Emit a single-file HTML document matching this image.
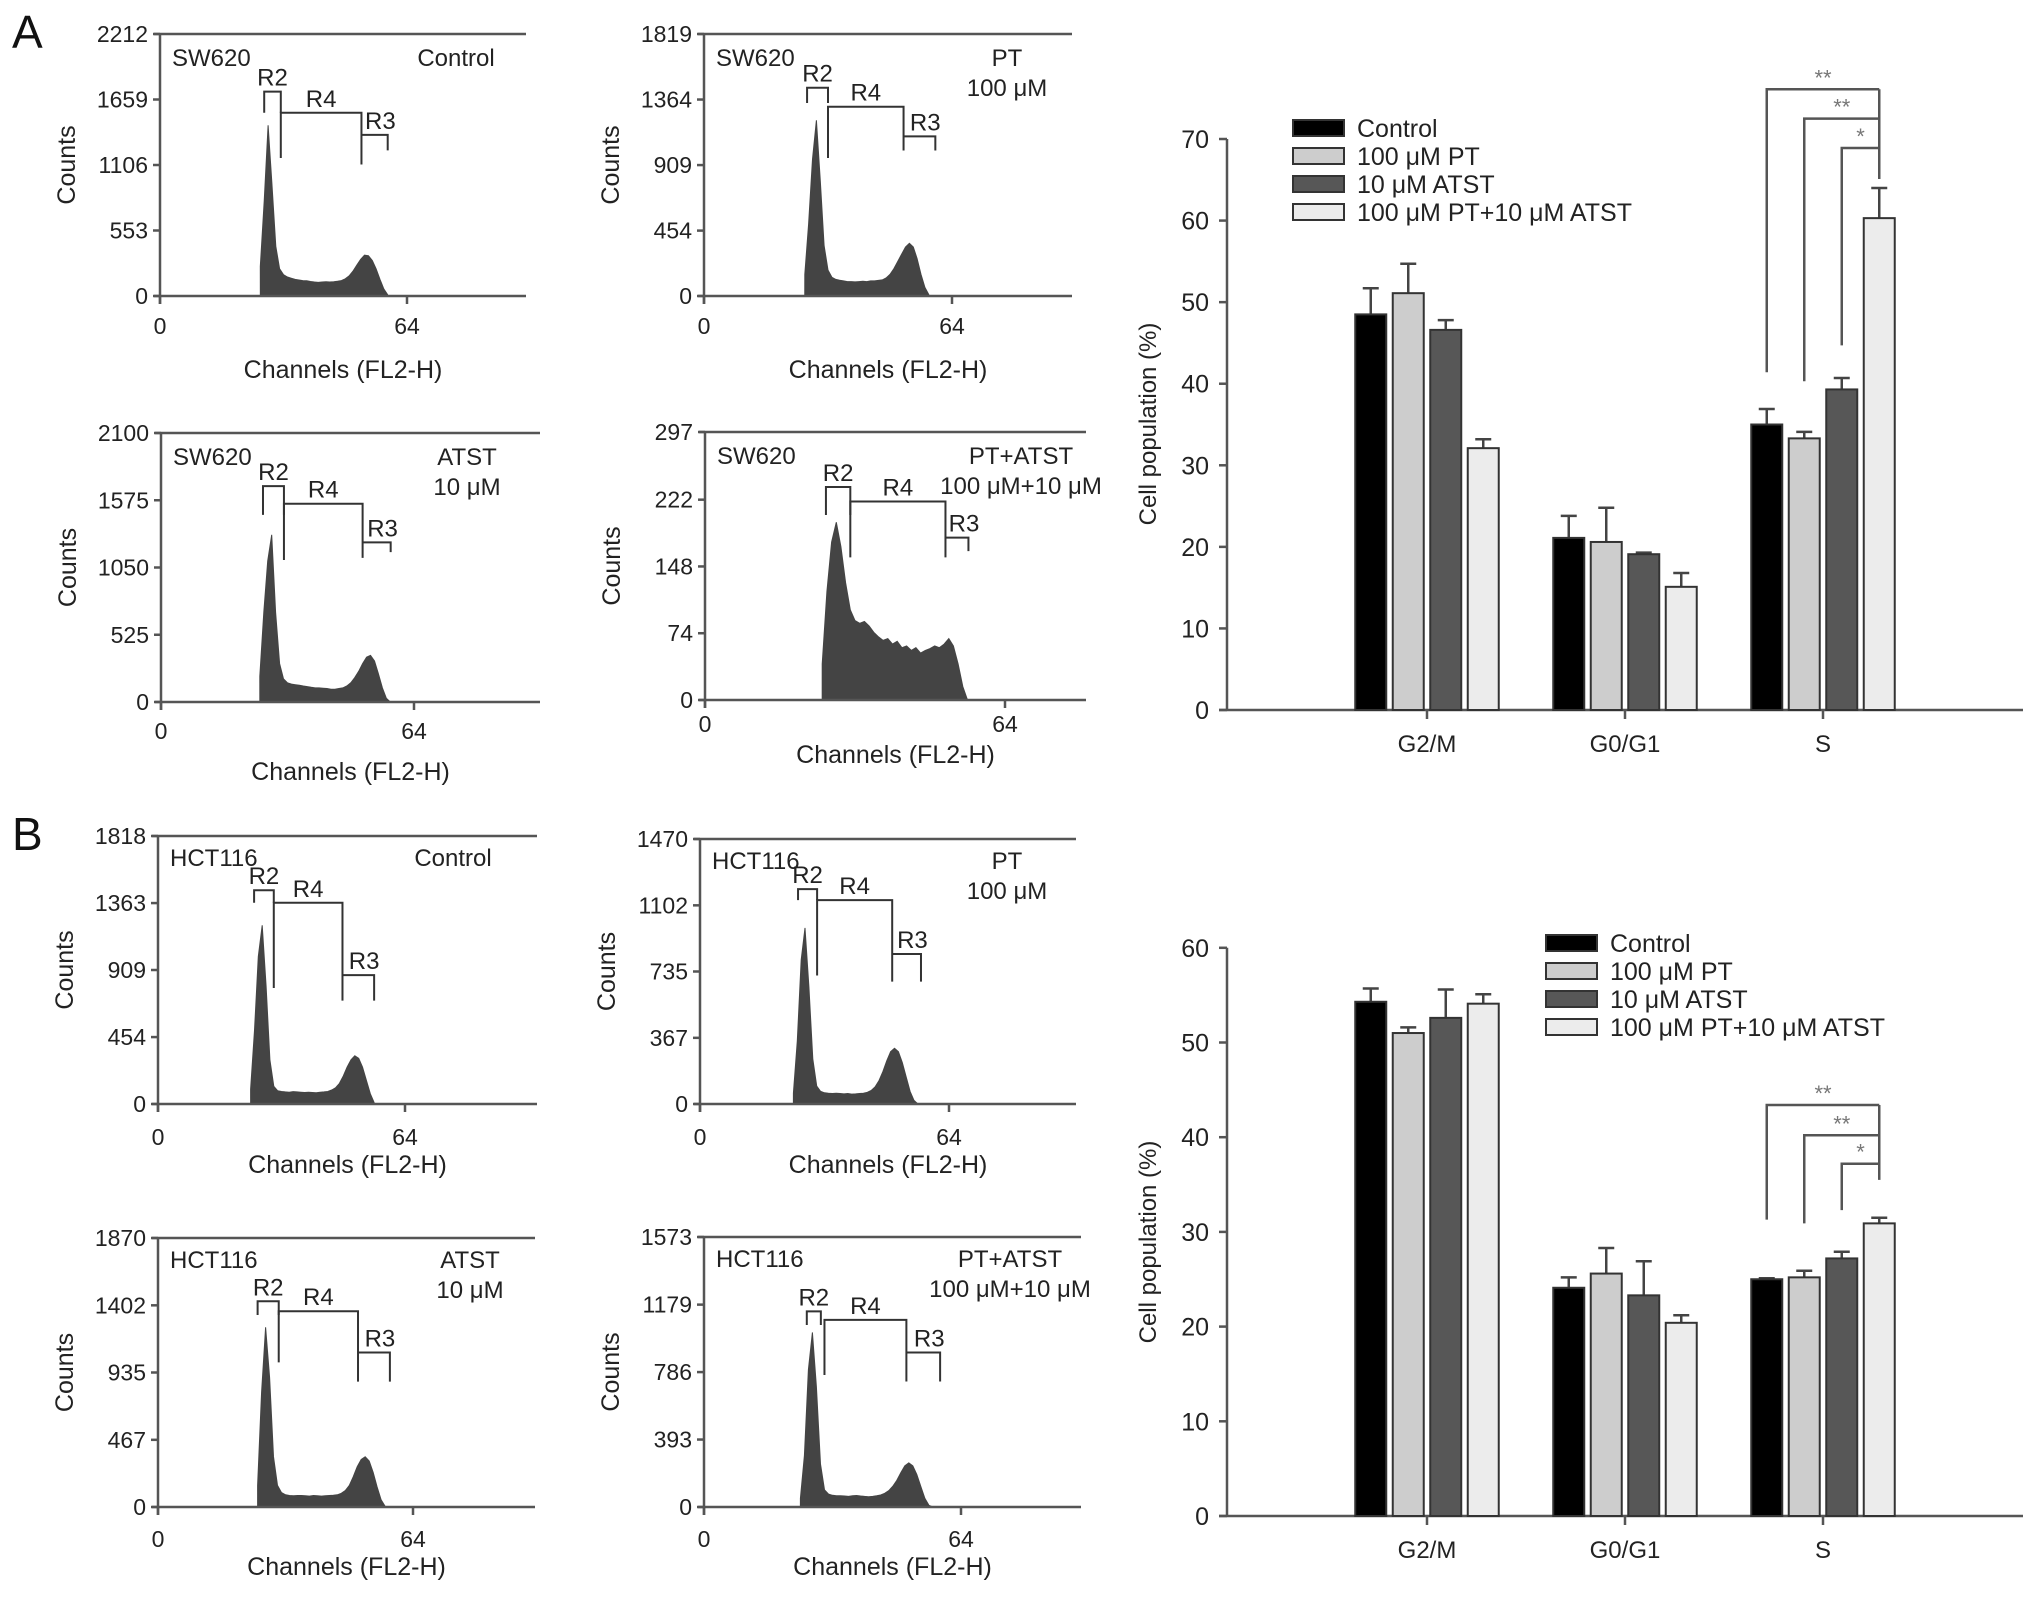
<!DOCTYPE html>
<html><head><meta charset="utf-8">
<style>
html,body{margin:0;padding:0;background:#fff;}
svg{display:block;font-family:"Liberation Sans",Arial,sans-serif;}
</style></head>
<body>
<svg id="fig" width="2032" height="1605" viewBox="0 0 2032 1605" xmlns="http://www.w3.org/2000/svg">
<rect x="0" y="0" width="2032" height="1605" fill="#fff"/>
<text x="12" y="48" font-size="46" fill="#111">A</text>
<text x="12" y="850" font-size="46" fill="#111">B</text>
</svg>
<script>
// ---------- Histogram data (counts per channel, starting at histStart) ----------
const histStartA1 = 26;
const histA1 = [250,800,1441,950,420,230,180,160,150,140,135,130,128,122,118,115,118,120,118,120,124,130,145,170,210,260,310,345,340,300,230,140,60,10];
const histStartA2 = 26;
const histA2 = [150,500,950,1220,800,350,180,130,115,110,105,100,100,98,100,102,100,105,105,108,112,125,150,190,240,290,340,366,340,260,150,60,10];
const histStartA3 = 25;
const histA3 = [200,700,1100,1305,700,300,180,150,140,135,130,125,120,115,110,110,108,105,100,100,105,110,125,150,190,240,300,350,364,320,220,110,30,0];
const histStartA4 = 25;
const histA4 = [40,120,175,197,170,130,100,88,85,87,82,75,70,66,68,62,65,58,60,55,58,52,55,57,60,58,62,68,60,40,15,0];
const histStartB1 = 24;
const histB1 = [100,500,1000,1212,800,300,120,90,85,82,80,84,82,80,78,80,78,76,80,82,85,95,110,140,190,250,300,327,310,250,160,70,10];
const histStartB2 = 24;
const histB2 = [60,350,800,977,650,250,100,70,62,60,58,60,58,56,58,55,56,58,60,65,75,95,130,180,240,290,309,290,230,150,70,20,0];
const histStartB3 = 25;
const histB3 = [150,800,1249,900,350,150,100,85,80,78,80,80,78,76,80,78,76,78,80,82,85,95,115,150,210,280,330,349,320,240,140,50,5];
const histStartB4 = 24;
const histB4 = [50,300,800,1017,700,250,100,75,68,65,66,64,62,65,67,64,62,60,62,65,70,80,95,120,155,200,240,257,240,190,120,50,10,0];

// y tick labels
const ticksA1 = [0,553,1106,1659,2212];
const ticksA2 = [0,454,909,1364,1819];
const ticksA3 = [0,525,1050,1575,2100];
const ticksA4 = [0,74,148,222,297];
const ticksB1 = [0,454,909,1363,1818];
const ticksB2 = [0,367,735,1102,1470];
const ticksB3 = [0,467,935,1402,1870];
const ticksB4 = [0,393,786,1179,1573];

// gate brackets: r2 [x1,x2,top,legBottom], r4 [x1,x2,top,leftLeg,rightLeg], r3 [x1,x2,top,rightLeg] (channel, count)
const gatesA1 = {r2:[27,31.3,1725,1547], r4:[31.3,52.2,1547,1165,1110], r3:[52.2,59,1360,1230]};
const gatesA2 = {r2:[26.6,32,1446,1340], r4:[32,51.5,1314,958,1010], r3:[51.5,59.7,1108,1010]};
const gatesA3 = {r2:[25.8,31.1,1685,1461], r4:[31.1,51,1548,1109,1125], r3:[51,58.1,1246,1170]};
const gatesA4 = {r2:[25.8,31,236,205], r4:[31,51.3,220,158,158], r3:[51.3,56.2,180,165]};
const gatesB1 = {r2:[24.9,30,1450,1365], r4:[30,47.8,1365,787,701], r3:[47.8,56,874,701]};
const gatesB2 = {r2:[25.2,30.1,1192,1131], r4:[30.1,49.4,1131,713,679], r3:[49.4,56.8,832,679]};
const gatesB3 = {r2:[25,30.3,1430,1335], r4:[30.3,50.2,1361,1005,872], r3:[50.2,58.2,1074,872]};
const gatesB4 = {r2:[25.6,29.1,1140,1060], r4:[30,50.4,1090,769,731], r3:[50.4,58.8,900,731]};

// ---------- Bar chart data ----------
const phases = ['G2/M','G0/G1','S'];
const seriesNames = ['Control','100 \u03bcM PT','10 \u03bcM ATST','100 \u03bcM PT+10 \u03bcM ATST'];
const aControl = [48.5,21.1,35.0];
const aPT = [51.1,20.6,33.3];
const aATST = [46.6,19.1,39.3];
const aCombo = [32.1,15.1,60.3];
const aControlErr = [3.2,2.7,1.9];
const aPTErr = [3.6,4.2,0.8];
const aATSTErr = [1.2,0.2,1.4];
const aComboErr = [1.1,1.7,3.7];
const bControl = [54.3,24.1,25.0];
const bPT = [51.0,25.6,25.2];
const bATST = [52.6,23.3,27.2];
const bCombo = [54.1,20.4,30.9];
const bControlErr = [1.4,1.1,0.1];
const bPTErr = [0.6,2.7,0.7];
const bATSTErr = [3.0,3.6,0.7];
const bComboErr = [1.0,0.8,0.6];
const aYTicks = [0,10,20,30,40,50,60,70];
const bYTicks = [0,10,20,30,40,50,60];
// significance brackets: [fromSeries, topValue, leftLegBottomValue, label]
const aSig = [[0,76.1,41.4,'**'],[1,72.5,40.3,'**'],[2,68.9,44.7,'*']];
const aSigRightBottom = 65.1;
const bSig = [[0,43.4,31.3,'**'],[1,40.2,30.9,'**'],[2,37.2,32.3,'*']];
const bSigRightBottom = 35.5;

const NS = 'http://www.w3.org/2000/svg';
const svg = document.getElementById('fig');
function mk(tag, attrs, parent){ const e=document.createElementNS(NS,tag); for(const k in attrs) e.setAttribute(k,attrs[k]); (parent||svg).appendChild(e); return e; }
const AX='#555', TXT='#222';
const TF=23, LF=24;

function histPanel(id, g, hist, start, ticks, gates, cell, lines, cfg){
  const grp = mk('g',{});
  
  
  const max = ticks[ticks.length-1];
  const xs = c => g.L + (g.x64-g.L)*c/64;
  const ys = v => g.B - (g.B-g.T)*v/max;
  let d = 'M'+xs(start)+','+g.B;
  hist.forEach((v,i)=>{ d += ' L'+xs(start+i).toFixed(1)+','+ys(v).toFixed(1); });
  d += ' L'+xs(start+hist.length-1)+','+g.B+' Z';
  const area = mk('path',{d:d, fill:'#444', stroke:'#444', 'stroke-width':1}, grp);
  
  
  const top = mk('line',{x1:g.L-6,y1:g.T,x2:g.R,y2:g.T,stroke:AX,'stroke-width':2.5}, grp);
  
  
  const ya = mk('line',{x1:g.L,y1:g.T,x2:g.L,y2:g.B+8,stroke:AX,'stroke-width':2.5}, grp);
  
  
  const xa = mk('line',{x1:g.L-6,y1:g.B,x2:g.R,y2:g.B,stroke:AX,'stroke-width':2.5}, grp);
  
  
  ticks.forEach(t=>{
    const y=ys(t);
    mk('line',{x1:g.L-7,y1:y,x2:g.L,y2:y,stroke:AX,'stroke-width':2.5}, grp);
    const tl = mk('text',{x:g.L-12,y:y+8,'font-size':TF,'text-anchor':'end',fill:TXT}, grp);
    tl.textContent = t;
    
    
  });
  [0,64].forEach(c=>{
    mk('line',{x1:xs(c),y1:g.B,x2:xs(c),y2:g.B+8,stroke:AX,'stroke-width':2.5}, grp);
    const tl = mk('text',{x:xs(c),y:cfg.tickY+8,'font-size':TF,'text-anchor':'middle',fill:TXT}, grp);
    tl.textContent = c;
    
    
  });
  const xt = mk('text',{x:(g.L+g.R)/2,y:cfg.chanY+9,'font-size':25,'text-anchor':'middle',fill:TXT}, grp);
  xt.textContent = 'Channels (FL2-H)';
  
  
  const cy=(g.T+g.B)/2, cx=g.L-93;
  const yt = mk('text',{x:cx,y:cy,'font-size':25,'text-anchor':'middle',fill:TXT,transform:'rotate(-90 '+cx+' '+(cy)+')', dy:8}, grp);
  yt.textContent = 'Counts';
  
  
  const cl = mk('text',{x:g.L+12,y:g.T+cfg.l1+8,'font-size':LF,fill:TXT}, grp);
  cl.textContent = cell;
  
  
  lines.forEach((s,i)=>{
    const t = mk('text',{x:cfg.cx,y:g.T+cfg.l1+8+i*30,'font-size':LF,'text-anchor':'middle',fill:TXT}, grp);
    t.textContent = s;
    
    
  });
  const st = {stroke:'#333','stroke-width':2,fill:'none'};
  const r2=gates.r2, r4=gates.r4, r3=gates.r3;
  const p2 = mk('path',Object.assign({d:`M${xs(r2[0])},${ys(r2[3])} V${ys(r2[2])} H${xs(r2[1])} V${ys(r2[3])}`},st), grp);
  
  
  const p4 = mk('path',Object.assign({d:`M${xs(r4[0])},${ys(r4[3])} V${ys(r4[2])} H${xs(r4[1])} V${ys(r4[4])}`},st), grp);
  
  
  const p3 = mk('path',Object.assign({d:`M${xs(r3[0])},${ys(r3[2])} H${xs(r3[1])} V${ys(r3[3])}`},st), grp);
  
  
  [['R2',(r2[0]+r2[1])/2,r2[2]],['R4',(r4[0]+r4[1])/2,r4[2]],['R3',(r3[0]+r3[1])/2+1.5,r3[2]]].forEach(a=>{
    const t = mk('text',{x:xs(a[1]),y:ys(a[2])-6,'font-size':LF,'text-anchor':'middle',fill:TXT}, grp);
    t.textContent = a[0];
    
    
  });
}

histPanel('a1',{L:160,R:526,T:34,B:296,x64:407},histA1,histStartA1,ticksA1,gatesA1,'SW620',['Control'],{cx:456,tickY:326,chanY:369,l1:24});
histPanel('a2',{L:704,R:1072,T:34,B:296,x64:952},histA2,histStartA2,ticksA2,gatesA2,'SW620',['PT','100 \u03bcM'],{cx:1007,tickY:326,chanY:369,l1:24});
histPanel('a3',{L:161,R:540,T:433,B:702,x64:414},histA3,histStartA3,ticksA3,gatesA3,'SW620',['ATST','10 \u03bcM'],{cx:467,tickY:731,chanY:771,l1:24});
histPanel('a4',{L:705,R:1086,T:432,B:700,x64:1005},histA4,histStartA4,ticksA4,gatesA4,'SW620',['PT+ATST','100 \u03bcM+10 \u03bcM'],{cx:1021,tickY:724,chanY:754,l1:24});
histPanel('b1',{L:158,R:537,T:836,B:1104,x64:405},histB1,histStartB1,ticksB1,gatesB1,'HCT116',['Control'],{cx:453,tickY:1137,chanY:1164,l1:22});
histPanel('b2',{L:700,R:1076,T:839,B:1104,x64:949},histB2,histStartB2,ticksB2,gatesB2,'HCT116',['PT','100 \u03bcM'],{cx:1007,tickY:1137,chanY:1164,l1:22});
histPanel('b3',{L:158,R:535,T:1238,B:1507,x64:413},histB3,histStartB3,ticksB3,gatesB3,'HCT116',['ATST','10 \u03bcM'],{cx:470,tickY:1539,chanY:1566,l1:22});
histPanel('b4',{L:704,R:1081,T:1237,B:1507,x64:961},histB4,histStartB4,ticksB4,gatesB4,'HCT116',['PT+ATST','100 \u03bcM+10 \u03bcM'],{cx:1010,tickY:1539,chanY:1566,l1:22});

// ---------- Bar charts ----------
const fills = ['#000','#cdcdcd','#575757','#ececec'];
function barChart(id, g, vals, errs, yTicks, sig, sigRB){
  const grp = mk('g',{});
  
  
  const ys = v => g.B - v*g.k;
  const catX = i => g.c0 + i*g.step;
  const barX = (i,s) => catX(i) - 1.5*g.pitch - g.bw/2 + s*g.pitch;
  const ya = mk('line',{x1:g.L,y1:ys(yTicks[yTicks.length-1]),x2:g.L,y2:g.B,stroke:AX,'stroke-width':2.5}, grp);
  
  
  const xa = mk('line',{x1:g.L-8,y1:g.B,x2:g.R,y2:g.B,stroke:AX,'stroke-width':2.5}, grp);
  
  
  yTicks.forEach(t=>{
    mk('line',{x1:g.L-8,y1:ys(t),x2:g.L,y2:ys(t),stroke:AX,'stroke-width':2.5}, grp);
    const tl = mk('text',{x:g.L-18,y:ys(t)+9,'font-size':25,'text-anchor':'end',fill:TXT}, grp);
    tl.textContent = t;
    
    
  });
  const cy=g.titleY, cx=g.L-79;
  const yt = mk('text',{x:cx,y:cy,'font-size':24,'text-anchor':'middle',fill:TXT,transform:'rotate(-90 '+cx+' '+cy+')',dy:8}, grp);
  yt.textContent = 'Cell population (%)';
  
  
  phases.forEach((p,i)=>{
    mk('line',{x1:catX(i),y1:g.B,x2:catX(i),y2:g.B+9,stroke:AX,'stroke-width':2.5}, grp);
    const tl = mk('text',{x:catX(i),y:g.B+42,'font-size':24,'text-anchor':'middle',fill:TXT}, grp);
    tl.textContent = p;
    
    
    vals.forEach((ser,s)=>{
      const v = ser[i], e = errs[s][i], x = barX(i,s), cxb = x+g.bw/2;
      const eb = mk('path',{d:`M${cxb},${ys(v)} V${ys(v+e)} M${cxb-8},${ys(v+e)} H${cxb+8}`,stroke:'#444','stroke-width':2.5,fill:'none'}, grp);
      
      
      const r = mk('rect',{x:x,y:ys(v),width:g.bw,height:v*g.k,fill:fills[s],stroke:'#333','stroke-width':2}, grp);
      
      
    });
  });
  const xr = barX(2,3)+g.bw/2;
  const rl = mk('line',{x1:xr,y1:ys(sig[0][1]),x2:xr,y2:ys(sigRB),stroke:'#555','stroke-width':2.5}, grp);
  
  
  sig.forEach(sg=>{
    const xl = barX(2,sg[0])+g.bw/2;
    const p = mk('path',{d:`M${xl},${ys(sg[2])} V${ys(sg[1])} H${xr}`,stroke:'#555','stroke-width':2.5,fill:'none'}, grp);
    
    
    const t = mk('text',{x:(xl+xr)/2,y:ys(sg[1])-4,'font-size':22,'text-anchor':'middle',fill:'#777'}, grp);
    t.textContent = sg[3];
    
    
  });
  seriesNames.forEach((n,s)=>{
    const y = g.legY + s*28;
    const r = mk('rect',{x:g.legX,y:y-8,width:51,height:16,fill:fills[s],stroke:'#333','stroke-width':2}, grp);
    
    
    const t = mk('text',{x:g.legX+64,y:y+9,'font-size':25,fill:TXT}, grp);
    t.textContent = n;
    
    
  });
}
barChart('a',{L:1227,R:2023,B:710,k:8.157,c0:1427,step:198,pitch:37.5,bw:31,legX:1293,legY:128,titleY:424},
  [aControl,aPT,aATST,aCombo],[aControlErr,aPTErr,aATSTErr,aComboErr],aYTicks,aSig,aSigRightBottom);
barChart('b',{L:1227,R:2023,B:1516,k:9.47,c0:1427,step:198,pitch:37.5,bw:31,legX:1546,legY:943,titleY:1242},
  [bControl,bPT,bATST,bCombo],[bControlErr,bPTErr,bATSTErr,bComboErr],bYTicks,bSig,bSigRightBottom);
</script>
</body></html>
